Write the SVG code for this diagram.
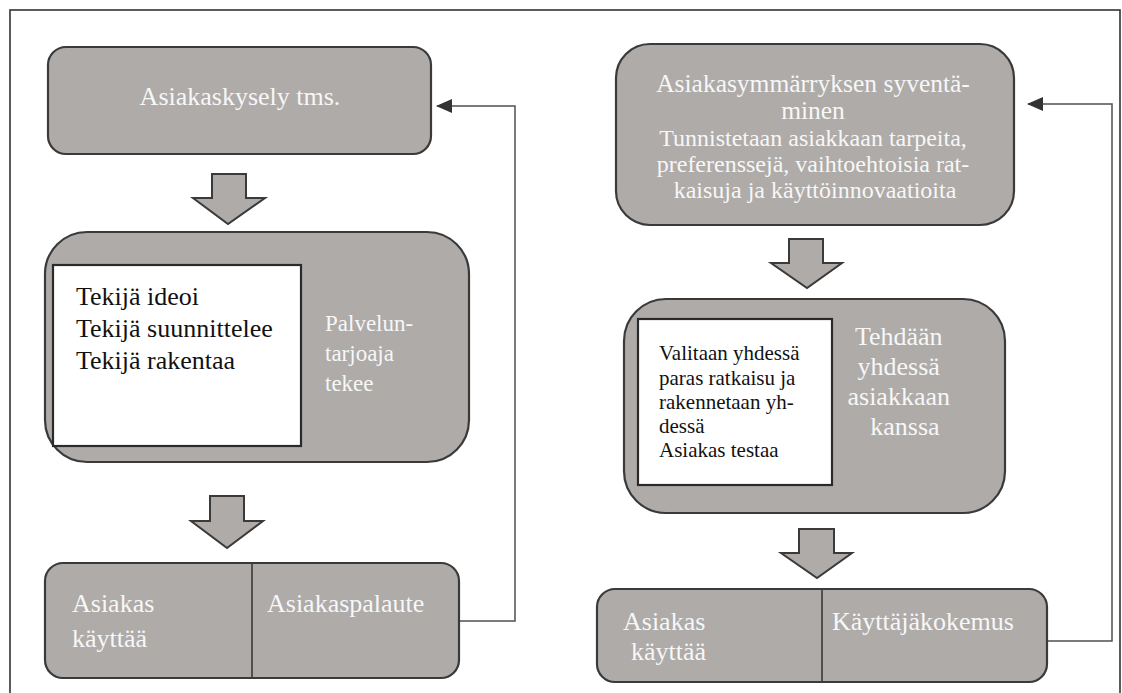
<svg xmlns="http://www.w3.org/2000/svg" width="1122" height="693" viewBox="0 0 1122 693">
  <defs>
    <style>
      .box { fill: #aeaba9; stroke: #3a3a3a; stroke-width: 2.2; }
      .inner { fill: #ffffff; stroke: #2a2a2a; stroke-width: 2.2; }
      .div { stroke: #2a2a2a; stroke-width: 1.4; }
      .blk { fill: #aeaba9; stroke: #3a3a3a; stroke-width: 2; stroke-linejoin: miter; }
      .wt { font-family: "Liberation Serif", "Times New Roman", serif; fill: #f7f7f7; }
      .bk { font-family: "Liberation Serif", "Times New Roman", serif; fill: #111111; }
      .link { fill: none; stroke: #505050; stroke-width: 1.5; }
    </style>
    <marker id="head" viewBox="0 0 16 14" refX="15" refY="7" markerWidth="16" markerHeight="14" markerUnits="userSpaceOnUse" orient="auto">
      <path d="M0,0 L16,7 L0,14 Z" fill="#333333"/>
    </marker>
  </defs>

  <rect width="1122" height="693" fill="#ffffff"/>
  <!-- outer frame -->
  <rect x="10" y="10" width="1110" height="700" fill="none" stroke="#333333" stroke-width="1.6"/>

  <!-- feedback connectors -->
  <g id="connectors">
    <path class="link" d="M459,621 H515 V106 H437" marker-end="url(#head)"/>
    <path class="link" d="M1047,641 H1112 V104 H1028" marker-end="url(#head)"/>
  </g>

  <!-- left column -->
  <g id="asiakaskysely">
    <rect class="box" x="48" y="47" width="383" height="107" rx="18"/>
    <text class="wt" x="240" y="105" font-size="26" text-anchor="middle">Asiakaskysely tms.</text>
  </g>

  <g id="arrow-l1">
    <path class="blk" d="M212,174 H246 V198 H265 L228,224 L193,198 H212 Z"/>
  </g>

  <g id="palveluntarjoaja">
    <rect class="box" x="45" y="232" width="424" height="230" rx="42"/>
    <rect class="inner" x="53" y="265" width="248" height="181"/>
    <text class="bk" font-size="26">
      <tspan x="76" y="305">Tekijä ideoi</tspan>
      <tspan x="76" y="337">Tekijä suunnittelee</tspan>
      <tspan x="76" y="369">Tekijä rakentaa</tspan>
    </text>
    <text class="wt" font-size="23">
      <tspan x="325" y="331">Palvelun-</tspan>
      <tspan x="325" y="361">tarjoaja</tspan>
      <tspan x="325" y="391">tekee</tspan>
    </text>
  </g>

  <g id="arrow-l2">
    <path class="blk" d="M210,496 H244 V521 H263 L227,548 L191,521 H210 Z"/>
  </g>

  <g id="asiakaspalaute">
    <rect class="box" x="45" y="563" width="414" height="115" rx="18"/>
    <line class="div" x1="252" y1="564" x2="252" y2="677"/>
    <text class="wt" font-size="26">
      <tspan x="72" y="612">Asiakas</tspan>
      <tspan x="72" y="647">käyttää</tspan>
    </text>
    <text class="wt" x="267" y="612" font-size="26">Asiakaspalaute</text>
  </g>

  <!-- right column -->
  <g id="asiakasymmarrys">
    <rect class="box" x="616" y="44" width="398" height="181" rx="34"/>
    <text class="wt" text-anchor="middle">
      <tspan x="815" y="92" font-size="25.5">Asiakasymmärryksen syventä-</tspan>
      <tspan x="815" y="119" font-size="25.5">minen</tspan>
      <tspan x="815" y="146" font-size="24">Tunnistetaan asiakkaan tarpeita,</tspan>
      <tspan x="815" y="172" font-size="24">preferenssejä, vaihtoehtoisia rat-</tspan>
      <tspan x="815" y="198" font-size="24">kaisuja ja käyttöinnovaatioita</tspan>
    </text>
  </g>

  <g id="arrow-r1">
    <path class="blk" d="M789,239 H823 V263 H842 L807,288 L771,263 H789 Z"/>
  </g>

  <g id="yhteiskehitys">
    <rect class="box" x="624" y="299" width="381" height="214" rx="42"/>
    <rect class="inner" x="638" y="319" width="194" height="166"/>
    <text class="bk" font-size="21">
      <tspan x="659" y="360">Valitaan yhdessä</tspan>
      <tspan x="659" y="385">paras ratkaisu ja</tspan>
      <tspan x="659" y="409">rakennetaan yh-</tspan>
      <tspan x="659" y="433">dessä</tspan>
      <tspan x="659" y="457">Asiakas testaa</tspan>
    </text>
    <text class="wt" font-size="26" text-anchor="middle">
      <tspan x="902" y="345">Tehdään</tspan>
      <tspan x="902" y="375">yhdessä</tspan>
      <tspan x="902" y="405">asiakkaan</tspan>
      <tspan x="905" y="435">kanssa</tspan>
    </text>
  </g>

  <g id="arrow-r2">
    <path class="blk" d="M799,529 H834 V553 H852 L817,578 L781,553 H799 Z"/>
  </g>

  <g id="kayttajakokemus">
    <rect class="box" x="597" y="589" width="450" height="93" rx="18"/>
    <line class="div" x1="822" y1="590" x2="822" y2="681"/>
    <text class="wt" font-size="26">
      <tspan x="623" y="630">Asiakas</tspan>
      <tspan x="631" y="660">käyttää</tspan>
    </text>
    <text class="wt" x="832" y="630" font-size="26">Käyttäjäkokemus</text>
  </g>
</svg>
